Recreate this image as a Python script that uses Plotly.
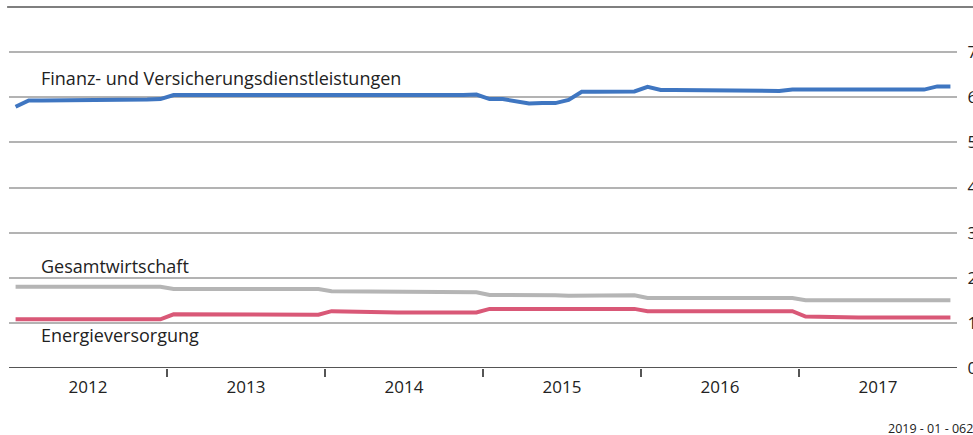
import plotly.graph_objects as go

years = ["2012", "2013", "2014", "2015", "2016", "2017"]
months = list(range(72))  # Jan 2012 .. Dec 2017

finanz = ([5.79] + [5.93] * 6 + [5.95] * 4 + [5.96]
          + [6.05] * 12
          + [6.03] * 4 + [6.04] * 6 + [6.05, 6.06]
          + [5.96, 5.96, 5.90, 5.86, 5.87, 5.87, 5.94, 6.12, 6.12, 6.12, 6.12, 6.13]
          + [6.23] + [6.16] * 9 + [6.14, 6.17]
          + [6.17] * 10 + [6.24, 6.24])

gesamt = ([1.80] * 12 + [1.75] * 12 + [1.70] * 11 + [1.68]
          + [1.62, 1.62, 1.63, 1.63, 1.63, 1.61, 1.60, 1.60, 1.60, 1.60, 1.61, 1.61]
          + [1.55] * 12 + [1.50] * 12)

energie = ([1.08] * 12 + [1.19] * 6 + [1.18] * 6
           + [1.26, 1.25, 1.24] + [1.23] * 9
           + [1.31] * 12
           + [1.26] * 12
           + [1.14, 1.13, 1.13, 1.12] + [1.12] * 8)

series_names = ["Finanz- und Versicherungsdienstleistungen", "Gesamtwirtschaft", "Energieversorgung"]
colors = ["#3f76c1", "#b5b5b5", "#d95877"]
yticks = [0, 1, 2, 3, 4, 5, 6, 7]
note = "2019 - 01 - 0629"

xpos = [m + 0.5 for m in months]

fig = go.Figure()
for name, vals, col in [(series_names[1], gesamt, colors[1]),
                        (series_names[2], energie, colors[2]),
                        (series_names[0], finanz, colors[0])]:
    fig.add_trace(go.Scatter(x=xpos, y=vals, mode="lines", name=name,
                             line=dict(color=col, width=4), showlegend=False))

# invisible trace for secondary x axis (year labels)
fig.add_trace(go.Scatter(x=[0, 72], y=[None, None], xaxis="x2", showlegend=False,
                         hoverinfo="skip"))

font = "Open Sans, Noto Sans, sans-serif"
txt = "#222222"

W, H = 973, 435
L, R, T, B = 9, 16, 7, 67
pw = W - L - R
ph = H - T - B

fig.update_layout(
    width=W, height=H,
    margin=dict(l=L, r=R, t=T, b=B),
    paper_bgcolor="white", plot_bgcolor="white",
    font=dict(family=font, color=txt, size=17),
    xaxis=dict(range=[0, 72], tickvals=[12, 24, 36, 48, 60],
               ticktext=["", "", "", "", ""], ticks="outside", ticklen=8,
               tickwidth=1.5, tickcolor="#555555", showgrid=False,
               zeroline=False, showline=False, fixedrange=True),
    xaxis2=dict(range=[0, 72], overlaying="x", side="bottom",
                tickvals=[6 + 12 * i for i in range(len(years))], ticktext=years,
                ticks="outside", ticklen=4, tickcolor="rgba(0,0,0,0)",
                showgrid=False, zeroline=False, showline=False,
                tickfont=dict(size=17, family=font, color=txt)),
    yaxis=dict(range=[0, 8], side="right", tickvals=yticks,
               ticktext=[str(v) for v in yticks], showgrid=True,
               gridcolor="#b3b3b3", gridwidth=1.5, zeroline=False,
               ticks="outside", ticklen=6, tickcolor="rgba(0,0,0,0)",
               automargin=False, tickfont=dict(size=17, family=font, color=txt)),
    shapes=[
        dict(type="line", xref="paper", yref="paper", x0=-0.002, x1=1.02, y0=1, y1=1,
             line=dict(color="#555555", width=1.5)),
        dict(type="line", xref="paper", yref="y", x0=0, x1=1, y0=0, y1=0,
             line=dict(color="#555555", width=2)),
    ],
    annotations=[
        dict(x=2.3, y=6.43, xref="x", yref="y", text=series_names[0], showarrow=False,
             xanchor="left", yanchor="middle", font=dict(size=18, family=font, color=txt)),
        dict(x=2.3, y=2.26, xref="x", yref="y", text=series_names[1], showarrow=False,
             xanchor="left", yanchor="middle", font=dict(size=18, family=font, color=txt)),
        dict(x=2.3, y=0.73, xref="x", yref="y", text=series_names[2], showarrow=False,
             xanchor="left", yanchor="middle", font=dict(size=18, family=font, color=txt)),
        dict(x=(886 - L) / pw, y=(H - B - 428) / ph, xref="paper", yref="paper",
             text=note, showarrow=False, xanchor="left", yanchor="middle",
             font=dict(size=12.5, family=font, color=txt)),
    ],
)

fig.write_html("out.html", config={"displayModeBar": False},
               post_script="document.body.style.margin='0';document.body.style.overflow='hidden';")
